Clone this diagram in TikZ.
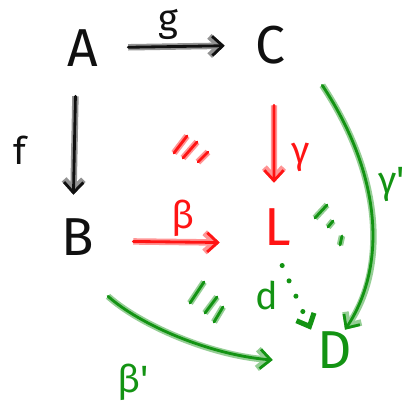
\documentclass[tikz,border=0pt]{standalone}
\usepackage{fontspec}
\setmainfont{Fira Sans}
\usetikzlibrary{arrows.meta, calc}
\definecolor{inkblack}{HTML}{101010}
\definecolor{inkred}{HTML}{FF1414}
\definecolor{inkgreen}{HTML}{139313}
\newcommand{\objfont}{\fontsize{38}{38}\selectfont}
\newcommand{\lblfont}{\fontsize{27}{27}\selectfont}

\begin{document}
\begin{tikzpicture}[x=0.25mm, y=-0.25mm,
  pen/.style={draw=#1, line width=2pt, line cap=round, line join=round,
              preaction={draw=#1!45, line width=4.6pt}},
  dots/.style={draw=#1, line width=3.6pt, line cap=round, dash pattern=on 0pt off 4.2mm},
  tip/.style={-{Straight Barb[length=2.6mm, width=4.8mm]}},
  obj/.style={inner sep=0pt, minimum width=1cm, minimum height=1cm, font=\objfont},
  lbl/.style={inner sep=0pt, font=\lblfont}]
  \useasboundingbox (0,0) rectangle (409,408);
  % objects of the square
  \node[obj, text=inkblack] (A) at (83,48) {A};
  \node[obj, text=inkblack] (C) at (270,45) {C};
  \node[obj, text=inkblack] (B) at (78,237) {B};
  \node[obj, text=inkred] (L) at (278,227) {L};
  \node[obj, text=inkgreen] (D) at (335,350) {D};
  % labels
  \node[lbl, text=inkblack] (lg) at (168,24) {g};
  \node[lbl, text=inkblack] (lf) at (20,150) {f};
  \node[lbl, text=inkred] (lbeta) at (183,218) {β};
  \node[lbl, text=inkred] (lgamma) at (301,157) {γ};
  \node[lbl, text=inkgreen] (lgammap) at (392,185) {γ\textquotesingle};
  \node[lbl, text=inkgreen] (lbetap) at (133,382) {β\textquotesingle};
  \node[lbl, text=inkgreen] (ld) at (267,295) {d};
  % arrows
  \draw[pen=inkblack, tip, shorten <=6.25mm, shorten >=6.25mm] (A) -- (C);
  \draw[pen=inkblack, tip, shorten <=7mm, shorten >=5.5mm] ([xshift=-1.75mm]A.south) -- ([xshift=-1.25mm]B.north);
  \draw[pen=inkred, tip, shorten <=8.75mm, shorten >=9.5mm] ([yshift=-1mm]B.east) -- ([yshift=-4mm]L.west);
  \draw[pen=inkred, tip, shorten <=10mm, shorten >=6mm] ([xshift=1mm]C.south) -- ([xshift=-1mm]L.north);
  \draw[pen=inkgreen, tip] ([shift={(32,20)}]C.south east) .. controls (385,180) and (385,270) .. ([xshift=2.5mm]D.north);
  \draw[pen=inkgreen, tip] ([shift={(30,39)}]B.south) .. controls (140,325) and (210,355) .. ([shift={(-42,10)}]D.west);
  \draw[dots=inkgreen, tip, shorten <=5mm] ([xshift=-1mm]L.south) -- ([xshift=-6mm]D.north);
  % commutativity marks
  \draw[pen=inkred] (187,136) -- (174,153) (197,142) -- (183,158) (208,152) -- (198,162);
  \draw[pen=inkgreen] (327,205) -- (315,218) (333,221) -- (328,227) (342,236) -- (340,245);
  \draw[pen=inkgreen] (204,282) -- (190,303) (217,297) -- (205,313) (223,307) -- (214,322);
\end{tikzpicture}
\end{document}
